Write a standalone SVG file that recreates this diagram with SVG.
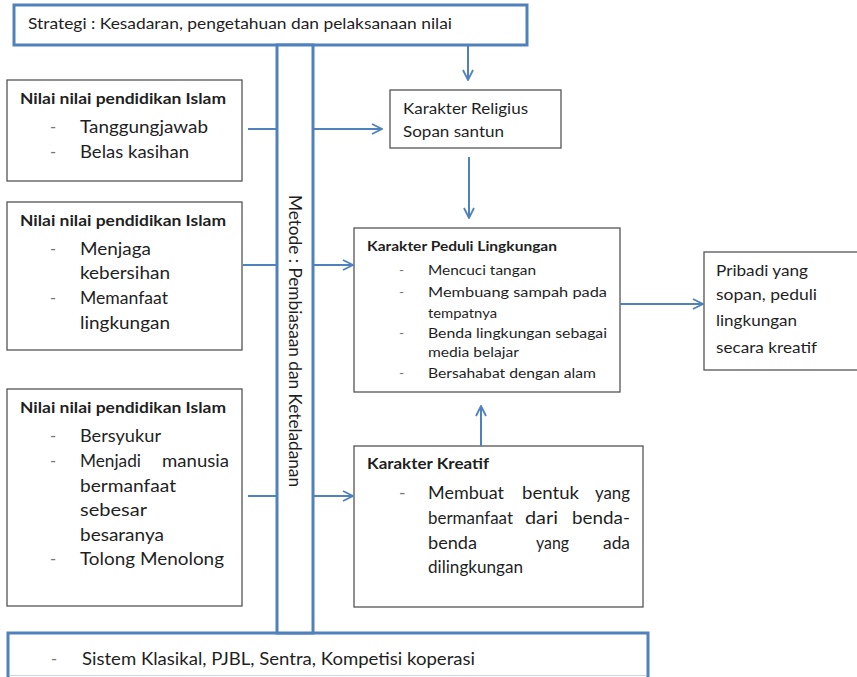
<svg xmlns="http://www.w3.org/2000/svg" width="857" height="677" viewBox="0 0 857 677">
  <style>
    text { font-family: Lato, "Liberation Sans", sans-serif; fill: #1f1f1f; }
    .frame { fill: #ffffff; stroke: #4f81bd; stroke-width: 3; }
    .box { fill: #ffffff; stroke: #555555; stroke-width: 1.3; }
    .link { stroke: #4f81bd; stroke-width: 2; fill: none; }
    .arrow { stroke: #4f81bd; stroke-width: 2; fill: none; marker-end: url(#head); }
    .t15 { font-size: 15px; }
    .t16 { font-size: 16.5px; }
    .t17 { font-size: 17.5px; }
    .t13 { font-size: 13.5px; }
    .b { font-weight: bold; }
    .dash { fill: #777777; }
  </style>
  <defs>
    <marker id="head" viewBox="0 0 12 12" refX="11" refY="6" markerWidth="12" markerHeight="12" markerUnits="userSpaceOnUse" orient="auto">
      <path d="M1,1 L11,6 L1,11" fill="none" stroke="#4f81bd" stroke-width="1.8"/>
    </marker>
  </defs>

  <!-- strategy banner -->
  <g id="strategi">
    <rect class="frame" x="14" y="5" width="513" height="40"/>
    <text class="t15" x="28" y="29" textLength="424" lengthAdjust="spacingAndGlyphs">Strategi : Kesadaran, pengetahuan dan pelaksanaan nilai</text>
  </g>

  <!-- bottom system bar -->
  <g id="sistem">
    <rect class="frame" x="8" y="633" width="640" height="50"/>
    <line x1="10" y1="675.5" x2="646" y2="675.5" stroke="#c9d9ee" stroke-width="1"/>
    <text class="t16 dash" x="51" y="665">-</text>
    <text class="t16" x="82" y="665" textLength="393" lengthAdjust="spacingAndGlyphs">Sistem Klasikal, PJBL, Sentra, Kompetisi koperasi</text>
  </g>

  <!-- method column -->
  <g id="metode">
    <rect class="frame" x="277" y="45" width="36" height="588"/>
    <text class="t16" transform="translate(289,195) rotate(90)" textLength="292" lengthAdjust="spacingAndGlyphs">Metode : Pembiasaan dan Keteladanan</text>
  </g>

  <!-- values, group 1 -->
  <g id="nilai1">
    <rect class="box" x="7" y="80" width="235" height="101"/>
    <text class="t15 b" x="20" y="104" textLength="206" lengthAdjust="spacingAndGlyphs">Nilai nilai pendidikan Islam</text>
    <text class="t16 dash" x="50" y="133">-</text>
    <text class="t16" x="80" y="133" textLength="128" lengthAdjust="spacingAndGlyphs">Tanggungjawab</text>
    <text class="t16 dash" x="50" y="158">-</text>
    <text class="t16" x="80" y="158" textLength="109" lengthAdjust="spacingAndGlyphs">Belas kasihan</text>
  </g>

  <!-- values, group 2 -->
  <g id="nilai2">
    <rect class="box" x="7" y="202" width="235" height="148"/>
    <text class="t15 b" x="20" y="226" textLength="206" lengthAdjust="spacingAndGlyphs">Nilai nilai pendidikan Islam</text>
    <text class="t16 dash" x="50" y="255">-</text>
    <text class="t16" x="80" y="255" textLength="71" lengthAdjust="spacingAndGlyphs">Menjaga</text>
    <text class="t16" x="80" y="279" textLength="90" lengthAdjust="spacingAndGlyphs">kebersihan</text>
    <text class="t16 dash" x="50" y="304">-</text>
    <text class="t16" x="80" y="304" textLength="88" lengthAdjust="spacingAndGlyphs">Memanfaat</text>
    <text class="t16" x="80" y="329" textLength="90" lengthAdjust="spacingAndGlyphs">lingkungan</text>
  </g>

  <!-- values, group 3 -->
  <g id="nilai3">
    <rect class="box" x="7" y="389" width="235" height="217"/>
    <text class="t15 b" x="20" y="413" textLength="206" lengthAdjust="spacingAndGlyphs">Nilai nilai pendidikan Islam</text>
    <text class="t16 dash" x="50" y="442">-</text>
    <text class="t16" x="80" y="442" textLength="81" lengthAdjust="spacingAndGlyphs">Bersyukur</text>
    <text class="t16 dash" x="50" y="467">-</text>
    <text class="t16" x="80" y="467" textLength="61" lengthAdjust="spacingAndGlyphs">Menjadi</text>
    <text class="t16" x="162" y="467" textLength="67" lengthAdjust="spacingAndGlyphs">manusia</text>
    <text class="t16" x="80" y="492" textLength="96" lengthAdjust="spacingAndGlyphs">bermanfaat</text>
    <text class="t16" x="80" y="516" textLength="67" lengthAdjust="spacingAndGlyphs">sebesar</text>
    <text class="t16" x="80" y="541" textLength="84" lengthAdjust="spacingAndGlyphs">besaranya</text>
    <text class="t16 dash" x="50" y="565">-</text>
    <text class="t16" x="80" y="565" textLength="144" lengthAdjust="spacingAndGlyphs">Tolong Menolong</text>
  </g>

  <!-- religious character -->
  <g id="religius">
    <rect class="box" x="390" y="90" width="171" height="58"/>
    <text class="t15" x="403" y="114" textLength="125" lengthAdjust="spacingAndGlyphs">Karakter Religius</text>
    <text class="t15" x="403" y="137" textLength="101" lengthAdjust="spacingAndGlyphs">Sopan santun</text>
  </g>

  <!-- environmental care character -->
  <g id="peduli">
    <rect class="box" x="354" y="228" width="266" height="164"/>
    <text class="t13 b" x="367" y="251" textLength="190" lengthAdjust="spacingAndGlyphs">Karakter Peduli Lingkungan</text>
    <text class="t13 dash" x="399" y="275">-</text>
    <text class="t13" x="428" y="275" textLength="108" lengthAdjust="spacingAndGlyphs">Mencuci tangan</text>
    <text class="t13 dash" x="399" y="297">-</text>
    <text class="t13" x="428" y="297" textLength="179" lengthAdjust="spacingAndGlyphs">Membuang sampah pada</text>
    <text class="t13" x="428" y="318" textLength="69" lengthAdjust="spacingAndGlyphs">tempatnya</text>
    <text class="t13 dash" x="399" y="338">-</text>
    <text class="t13" x="428" y="338" textLength="179" lengthAdjust="spacingAndGlyphs">Benda lingkungan sebagai</text>
    <text class="t13" x="428" y="357" textLength="91" lengthAdjust="spacingAndGlyphs">media belajar</text>
    <text class="t13 dash" x="399" y="378">-</text>
    <text class="t13" x="428" y="378" textLength="168" lengthAdjust="spacingAndGlyphs">Bersahabat dengan alam</text>
  </g>

  <!-- creative character: justified paragraph, one word per text run -->
  <g id="kreatif">
    <rect class="box" x="354" y="446" width="289" height="161"/>
    <text class="t15 b" x="367" y="469" textLength="122" lengthAdjust="spacingAndGlyphs">Karakter Kreatif</text>
    <text class="t17 dash" x="399" y="499">-</text>
    <text class="t17" x="428" y="499" textLength="76" lengthAdjust="spacingAndGlyphs">Membuat</text>
    <text class="t17" x="522" y="499" textLength="57" lengthAdjust="spacingAndGlyphs">bentuk</text>
    <text class="t17" x="595" y="499" textLength="35" lengthAdjust="spacingAndGlyphs">yang</text>
    <text class="t17" x="428" y="524" textLength="85" lengthAdjust="spacingAndGlyphs">bermanfaat</text>
    <text class="t17" x="525" y="524" textLength="33" lengthAdjust="spacingAndGlyphs">dari</text>
    <text class="t17" x="572" y="524" textLength="58" lengthAdjust="spacingAndGlyphs">benda-</text>
    <text class="t17" x="428" y="549" textLength="49" lengthAdjust="spacingAndGlyphs">benda</text>
    <text class="t17" x="536" y="549" textLength="33" lengthAdjust="spacingAndGlyphs">yang</text>
    <text class="t17" x="603" y="549" textLength="27" lengthAdjust="spacingAndGlyphs">ada</text>
    <text class="t17" x="428" y="573" textLength="95" lengthAdjust="spacingAndGlyphs">dilingkungan</text>
  </g>

  <!-- outcome -->
  <g id="pribadi">
    <rect class="box" x="704" y="252" width="160" height="118"/>
    <text class="t15" x="716" y="276" textLength="92" lengthAdjust="spacingAndGlyphs">Pribadi yang</text>
    <text class="t15" x="716" y="300" textLength="101" lengthAdjust="spacingAndGlyphs">sopan, peduli</text>
    <text class="t15" x="716" y="326" textLength="81" lengthAdjust="spacingAndGlyphs">lingkungan</text>
    <text class="t15" x="716" y="353" textLength="101" lengthAdjust="spacingAndGlyphs">secara kreatif</text>
  </g>

  <!-- connectors -->
  <g id="connectors">
    <line class="link" x1="248" y1="129" x2="277" y2="129"/>
    <line class="link" x1="243" y1="265" x2="277" y2="265"/>
    <line class="link" x1="248" y1="496" x2="277" y2="496"/>
    <line class="arrow" x1="313" y1="129" x2="382" y2="129"/>
    <line class="arrow" x1="313" y1="265" x2="353" y2="265"/>
    <line class="arrow" x1="313" y1="496" x2="353" y2="496"/>
    <line class="arrow" x1="468" y1="46" x2="468" y2="80"/>
    <line class="arrow" x1="469" y1="157" x2="469" y2="218"/>
    <line class="arrow" x1="481" y1="446" x2="481" y2="406"/>
    <line class="arrow" x1="620" y1="304" x2="703" y2="304"/>
  </g>
</svg>
